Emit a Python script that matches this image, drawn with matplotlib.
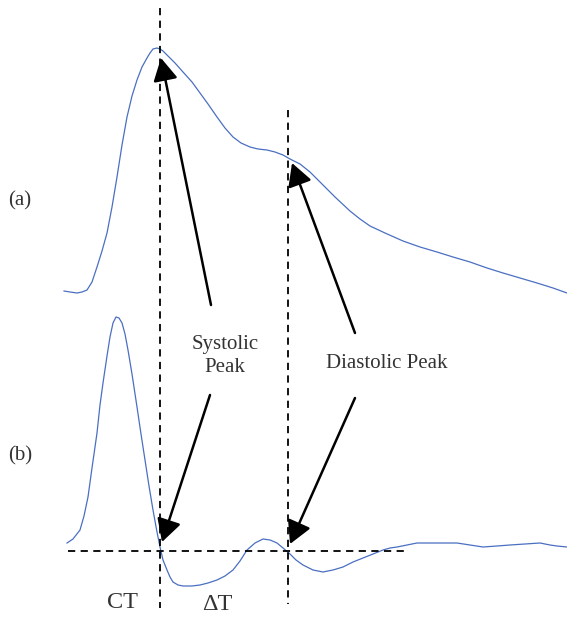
import matplotlib
matplotlib.use("Agg")
import matplotlib.pyplot as plt

# Curve (a): pulse waveform, pixel coordinates (x, y from top)
a_x = [64, 70, 77, 82, 87, 92, 97, 102, 107, 112, 117, 122, 127, 132, 137, 142, 147, 150, 153, 157,
       160, 163, 167, 175, 183, 192, 200, 208, 217, 225, 233, 241, 250, 258, 267, 275, 283, 290,
       300, 310, 320, 335, 350, 360, 370, 385, 403, 420, 437, 453, 470, 487, 503, 520, 537, 553, 567]
a_y = [291, 292, 293, 292, 290, 282, 267, 251, 233, 207, 177, 145, 117, 96, 80, 67, 58, 53, 49, 48,
       49, 51, 55, 63, 72, 82, 93, 104, 117, 128, 137, 143, 147, 149, 150, 152, 155, 159,
       164, 172, 182, 197, 211, 219, 226, 233, 241, 247, 252, 257, 262, 268, 273, 278, 283, 288, 293]

# Curve (b): first derivative
b_x = [67, 73, 80, 84, 88, 92, 97, 100, 103, 107, 110, 113, 116, 119, 122, 125, 128, 132, 137, 141,
       145, 149, 153, 157, 160, 163, 167, 170, 173, 178, 183, 192, 200, 208, 217, 225, 233, 240,
       247, 255, 263, 270, 277, 283, 290, 296, 303, 313, 323, 333, 343, 353, 363, 373, 383, 390,
       397, 407, 417, 427, 437, 447, 457, 470, 483, 497, 510, 525, 540, 550, 557, 567]
b_y = [543, 539, 530, 516, 497, 468, 433, 405, 383, 356, 337, 323, 317, 318, 323, 334, 350, 374, 407, 434,
       460, 486, 510, 532, 547, 560, 570, 577, 582, 585, 586, 586, 585, 583, 580, 576, 570, 561,
       550, 543, 539, 540, 543, 548, 554, 560, 565, 570, 572, 570, 567, 562, 558, 554, 550, 548,
       547, 545, 543, 543, 543, 543, 543, 545, 547, 546, 545, 544, 543, 545, 546, 547]

# Guide lines
v_lines = [(160, 8, 608), (288, 110, 604)]
h_line = (551, 68, 407)

# Arrows: (tail_x, tail_y, head_x, head_y)
arrows = [(211, 305, 161, 58), (210, 395, 162, 542),
          (355, 333, 292, 163), (355, 398, 290, 544)]

labels = [("(a)", 20, 201, 15), ("(b)", 20, 456, 15),
          ("Systolic", 225, 345, 15), ("Peak", 225, 368, 15),
          ("Diastolic Peak", 387, 364, 15),
          ("CT", 122, 602, 17.5), ("ΔT", 217, 604, 17.5)]

fig = plt.figure(figsize=(5.67, 6.17), dpi=100)
ax = fig.add_axes([0, 0, 1, 1])
ax.set_xlim(0, 567)
ax.set_ylim(617, 0)
ax.axis("off")

ax.plot(a_x, a_y, color="#4a6fc2", lw=0.9, solid_joinstyle="round")
ax.plot(b_x, b_y, color="#4a6fc2", lw=0.9, solid_joinstyle="round")

for x, y0, y1 in v_lines:
    ax.plot([x, x], [y0, y1], color="black", lw=1.3, ls=(0, (4, 3)))
ax.plot([h_line[1], h_line[2]], [h_line[0], h_line[0]], color="black", lw=1.3, ls=(0, (4, 3)))

for tx, ty, hx, hy in arrows:
    ax.annotate("", xy=(hx, hy), xytext=(tx, ty),
                arrowprops=dict(arrowstyle="-|>,head_length=0.55,head_width=0.3",
                                mutation_scale=25, lw=1.8, color="black",
                                shrinkA=0, shrinkB=0))

for t, x, y, fs in labels:
    ax.text(x, y, t, ha="center", va="center", fontsize=fs, family="Liberation Serif", color="#333333")

fig.savefig("out.png", dpi=100)
